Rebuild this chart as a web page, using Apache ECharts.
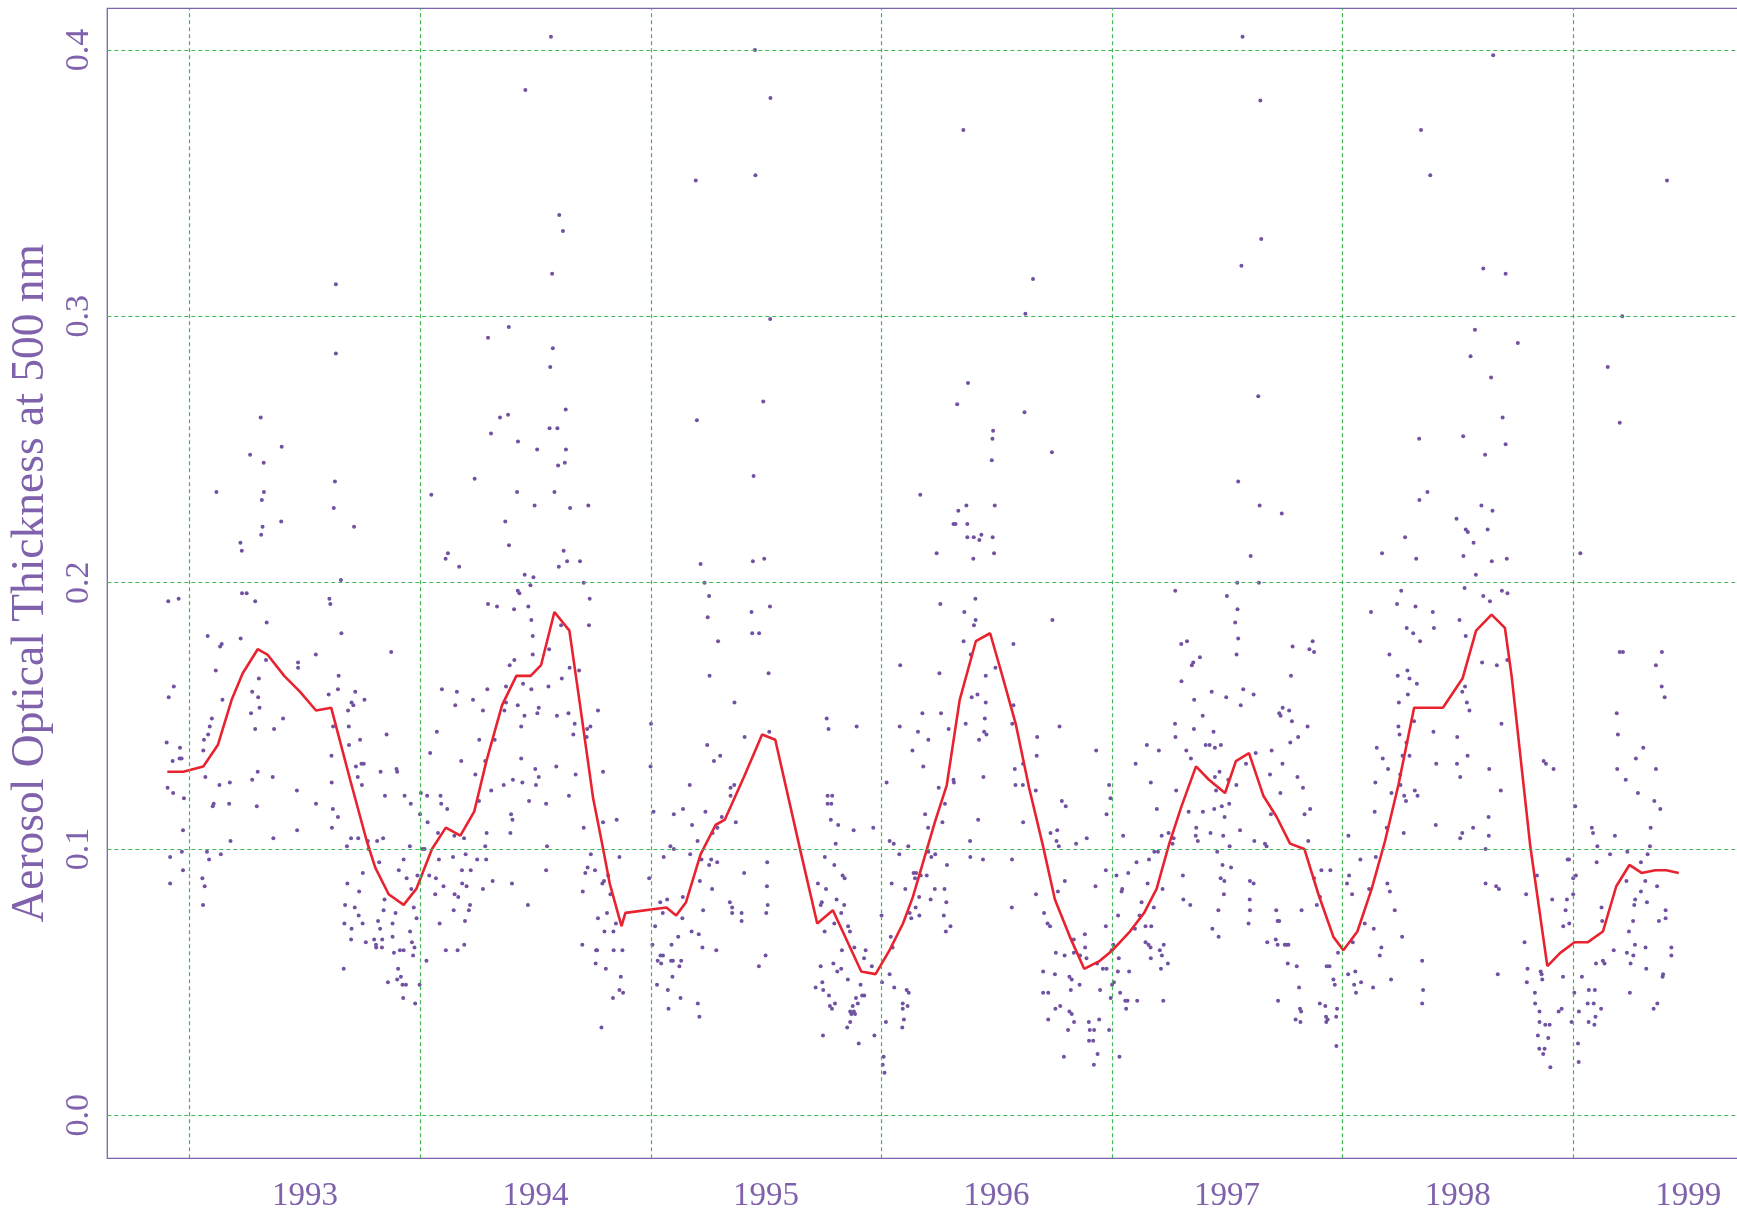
<!DOCTYPE html>
<html><head><meta charset="utf-8">
<script src="https://cdn.jsdelivr.net/npm/echarts@6/dist/echarts.min.js"></script>
<style>html,body{margin:0;padding:0;background:#fff}#c{width:1737px;height:1212px}</style>
</head><body><div id="c"></div>
<script>
// ---- tick labels / grid positions (decimal years, AOT values) ----
const xTickPos = [1993.5, 1994.5, 1995.5, 1996.5, 1997.5, 1998.5, 1999.5];
const xTickText = ['1993', '1994', '1995', '1996', '1997', '1998', '1999'];
const yTickPos = [0, 0.1, 0.2, 0.3, 0.4];
const yTickText = ['0.0', '0.1', '0.2', '0.3', '0.4'];
const xGridLines = [1993, 1994, 1995, 1996, 1997, 1998, 1999];
const yGridLines = [0, 0.1, 0.2, 0.3, 0.4];

// ---- daily observations [decimal year, aerosol optical thickness] ----
const aot1992 = [[1992.907,0.193],[1992.952,0.194],[1992.931,0.161],[1992.909,0.157],[1992.900,0.140],[1992.958,0.138],[1992.965,0.134],[1992.956,0.134],[1992.926,0.133],[1992.904,0.123],[1992.928,0.121],[1992.975,0.119],[1992.971,0.107],[1992.966,0.099],[1992.915,0.097],[1992.971,0.092],[1992.915,0.087]];
const aot1993 = [[1993.634,0.312],[1993.634,0.286],[1993.308,0.262],[1993.399,0.251],[1993.262,0.248],[1993.321,0.245],[1993.116,0.234],[1993.322,0.234],[1993.313,0.231],[1993.630,0.238],[1993.625,0.228],[1993.316,0.221],[1993.310,0.218],[1993.397,0.223],[1993.713,0.221],[1993.220,0.215],[1993.226,0.212],[1993.656,0.201],[1993.227,0.196],[1993.247,0.196],[1993.284,0.193],[1993.606,0.194],[1993.610,0.192],[1993.334,0.185],[1993.078,0.180],[1993.221,0.179],[1993.658,0.181],[1993.139,0.177],[1993.132,0.176],[1993.874,0.174],[1993.331,0.171],[1993.470,0.170],[1993.470,0.168],[1993.547,0.173],[1993.113,0.167],[1993.300,0.164],[1993.646,0.165],[1993.142,0.156],[1993.271,0.159],[1993.297,0.157],[1993.303,0.153],[1993.266,0.151],[1993.643,0.160],[1993.603,0.158],[1993.718,0.159],[1993.758,0.156],[1993.702,0.155],[1993.710,0.154],[1993.687,0.152],[1993.096,0.149],[1993.405,0.149],[1993.087,0.146],[1993.284,0.145],[1993.366,0.145],[1993.622,0.146],[1993.690,0.146],[1993.080,0.143],[1993.854,0.143],[1993.062,0.141],[1993.739,0.141],[1993.691,0.139],[1993.059,0.137],[1993.615,0.135],[1993.745,0.132],[1993.755,0.132],[1993.721,0.131],[1993.897,0.130],[1993.900,0.129],[1993.295,0.129],[1993.828,0.129],[1993.068,0.127],[1993.271,0.126],[1993.360,0.127],[1993.729,0.127],[1993.616,0.125],[1993.747,0.124],[1993.174,0.125],[1993.129,0.124],[1993.465,0.122],[1993.847,0.120],[1993.932,0.120],[1993.104,0.117],[1993.100,0.116],[1993.171,0.117],[1993.291,0.116],[1993.548,0.117],[1993.959,0.117],[1993.621,0.115],[1993.643,0.112],[1993.617,0.108],[1993.466,0.107],[1993.177,0.103],[1993.363,0.104],[1993.700,0.104],[1993.731,0.104],[1993.813,0.103],[1993.839,0.104],[1993.773,0.103],[1993.682,0.101],[1993.955,0.101],[1993.075,0.099],[1993.135,0.098],[1993.084,0.096],[1993.776,0.100],[1993.822,0.095],[1993.928,0.096],[1993.907,0.092],[1993.055,0.089],[1993.751,0.091],[1993.941,0.089],[1993.988,0.090],[1993.684,0.087],[1993.065,0.086],[1993.961,0.085],[1993.735,0.084],[1993.845,0.081],[1993.058,0.079],[1993.674,0.079],[1993.716,0.078],[1993.893,0.076],[1993.972,0.078],[1993.841,0.077],[1993.733,0.075],[1993.984,0.074],[1993.817,0.073],[1993.880,0.072],[1993.671,0.072],[1993.750,0.072],[1993.702,0.070],[1993.826,0.070],[1993.956,0.069],[1993.880,0.067],[1993.800,0.066],[1993.700,0.066],[1993.835,0.066],[1993.964,0.065],[1993.764,0.065],[1993.808,0.064],[1993.809,0.063],[1993.834,0.063],[1993.912,0.062],[1993.928,0.062],[1993.975,0.063],[1993.886,0.061],[1993.969,0.060],[1993.668,0.055],[1993.904,0.055],[1993.916,0.052],[1993.860,0.050],[1993.900,0.051],[1993.923,0.049],[1993.938,0.049],[1993.997,0.049],[1993.926,0.044],[1993.978,0.042],[1993.999,0.113]];
const aot1994 = [[1994.603,0.338],[1994.619,0.332],[1994.572,0.316],[1994.294,0.292],[1994.384,0.296],[1994.575,0.288],[1994.564,0.281],[1994.631,0.265],[1994.346,0.262],[1994.381,0.263],[1994.561,0.258],[1994.595,0.258],[1994.307,0.256],[1994.424,0.253],[1994.507,0.250],[1994.632,0.250],[1994.627,0.245],[1994.598,0.244],[1994.236,0.239],[1994.048,0.233],[1994.420,0.234],[1994.582,0.234],[1994.496,0.229],[1994.650,0.228],[1994.729,0.229],[1994.369,0.223],[1994.385,0.214],[1994.622,0.212],[1994.120,0.211],[1994.110,0.209],[1994.169,0.206],[1994.601,0.206],[1994.637,0.208],[1994.693,0.208],[1994.453,0.203],[1994.491,0.202],[1994.709,0.200],[1994.478,0.199],[1994.423,0.197],[1994.430,0.196],[1994.735,0.194],[1994.294,0.192],[1994.333,0.191],[1994.407,0.190],[1994.469,0.191],[1994.482,0.186],[1994.732,0.184],[1994.611,0.184],[1994.488,0.180],[1994.559,0.175],[1994.488,0.173],[1994.408,0.171],[1994.388,0.169],[1994.648,0.168],[1994.689,0.167],[1994.614,0.164],[1994.446,0.162],[1994.482,0.160],[1994.556,0.161],[1994.094,0.160],[1994.291,0.160],[1994.372,0.161],[1994.159,0.159],[1994.229,0.156],[1994.372,0.155],[1994.423,0.154],[1994.514,0.153],[1994.508,0.151],[1994.152,0.154],[1994.272,0.152],[1994.365,0.152],[1994.643,0.151],[1994.452,0.150],[1994.593,0.150],[1994.771,0.152],[1994.738,0.146],[1994.670,0.147],[1994.438,0.146],[1994.072,0.144],[1994.664,0.143],[1994.724,0.145],[1994.722,0.142],[1994.256,0.141],[1994.323,0.141],[1994.043,0.136],[1994.438,0.134],[1994.178,0.133],[1994.282,0.133],[1994.499,0.130],[1994.590,0.131],[1994.793,0.129],[1994.674,0.128],[1994.239,0.128],[1994.514,0.127],[1994.402,0.126],[1994.443,0.125],[1994.362,0.124],[1994.502,0.124],[1994.003,0.121],[1994.030,0.120],[1994.088,0.120],[1994.308,0.122],[1994.645,0.120],[1994.472,0.118],[1994.255,0.118],[1994.091,0.117],[1994.117,0.115],[1994.546,0.117],[1994.394,0.113],[1994.400,0.111],[1994.032,0.110],[1994.852,0.111],[1994.793,0.110],[1994.709,0.108],[1994.077,0.106],[1994.288,0.106],[1994.391,0.106],[1994.190,0.104],[1994.148,0.105],[1994.550,0.101],[1994.282,0.101],[1994.019,0.100],[1994.010,0.100],[1994.197,0.098],[1994.740,0.098],[1994.864,0.097],[1994.081,0.096],[1994.142,0.097],[1994.247,0.096],[1994.286,0.096],[1994.726,0.093],[1994.758,0.092],[1994.181,0.092],[1994.219,0.092],[1994.546,0.092],[1994.716,0.091],[1994.039,0.090],[1994.068,0.089],[1994.815,0.090],[1994.314,0.088],[1994.398,0.087],[1994.797,0.088],[1994.790,0.087],[1994.101,0.086],[1994.201,0.086],[1994.182,0.087],[1994.272,0.085],[1994.149,0.083],[1994.165,0.082],[1994.065,0.083],[1994.825,0.083],[1994.705,0.084],[1994.216,0.079],[1994.211,0.077],[1994.145,0.077],[1994.467,0.079],[1994.810,0.076],[1994.194,0.073],[1994.771,0.074],[1994.849,0.072],[1994.084,0.072],[1994.799,0.069],[1994.838,0.069],[1994.191,0.064],[1994.162,0.062],[1994.111,0.062],[1994.767,0.062],[1994.763,0.062],[1994.839,0.062],[1994.877,0.062],[1994.703,0.064],[1994.027,0.058],[1994.761,0.057],[1994.805,0.055],[1994.870,0.052],[1994.864,0.047],[1994.880,0.046],[1994.836,0.044],[1994.786,0.033],[1994.456,0.385],[1994.567,0.405]];
const aot1995 = [[1995.195,0.351],[1995.454,0.353],[1995.518,0.299],[1995.488,0.268],[1995.200,0.261],[1995.446,0.240],[1995.216,0.207],[1995.443,0.208],[1995.492,0.209],[1995.233,0.200],[1995.253,0.195],[1995.517,0.191],[1995.437,0.189],[1995.247,0.187],[1995.440,0.181],[1995.470,0.181],[1995.292,0.178],[1995.511,0.166],[1995.255,0.165],[1995.363,0.155],[1995.001,0.147],[1995.514,0.144],[1995.763,0.149],[1995.771,0.145],[1995.893,0.146],[1995.407,0.142],[1995.245,0.139],[1995.301,0.135],[1995.274,0.133],[1994.999,0.131],[1995.169,0.124],[1995.362,0.124],[1995.346,0.123],[1995.346,0.120],[1995.767,0.120],[1995.787,0.120],[1995.767,0.117],[1995.783,0.117],[1995.140,0.115],[1995.100,0.113],[1995.237,0.114],[1995.308,0.112],[1995.012,0.114],[1995.781,0.111],[1995.179,0.109],[1995.369,0.110],[1995.289,0.108],[1995.268,0.106],[1995.813,0.109],[1995.880,0.107],[1995.965,0.108],[1995.203,0.103],[1995.085,0.101],[1995.100,0.100],[1995.802,0.102],[1995.056,0.097],[1995.171,0.098],[1995.755,0.097],[1995.262,0.096],[1995.220,0.096],[1995.288,0.095],[1995.253,0.094],[1995.505,0.095],[1995.796,0.094],[1995.405,0.091],[1995.832,0.090],[1995.841,0.089],[1994.993,0.089],[1995.213,0.088],[1995.504,0.086],[1995.266,0.085],[1995.725,0.087],[1995.760,0.085],[1995.139,0.082],[1995.806,0.081],[1995.041,0.080],[1995.071,0.081],[1995.742,0.080],[1995.737,0.079],[1995.839,0.079],[1995.507,0.079],[1995.343,0.080],[1995.227,0.077],[1995.353,0.078],[1995.052,0.076],[1995.353,0.076],[1995.394,0.076],[1995.501,0.076],[1995.826,0.076],[1995.394,0.073],[1995.137,0.074],[1995.796,0.072],[1995.856,0.071],[1995.019,0.071],[1995.177,0.069],[1995.864,0.069],[1995.208,0.068],[1995.119,0.067],[1995.754,0.069],[1995.007,0.064],[1995.090,0.064],[1995.224,0.063],[1995.829,0.062],[1995.883,0.063],[1995.932,0.062],[1995.284,0.062],[1995.042,0.060],[1995.053,0.060],[1995.498,0.060],[1995.925,0.059],[1995.030,0.058],[1995.088,0.058],[1995.096,0.058],[1995.132,0.058],[1995.792,0.057],[1995.045,0.057],[1995.124,0.056],[1995.469,0.056],[1995.737,0.056],[1995.826,0.055],[1995.809,0.054],[1995.094,0.052],[1995.855,0.051],[1995.744,0.050],[1995.027,0.049],[1995.715,0.048],[1995.910,0.049],[1995.074,0.047],[1995.748,0.047],[1995.917,0.045],[1995.926,0.045],[1995.773,0.045],[1995.129,0.044],[1995.890,0.044],[1995.799,0.042],[1995.898,0.042],[1995.204,0.042],[1995.777,0.041],[1995.786,0.040],[1995.876,0.041],[1995.077,0.040],[1995.865,0.039],[1995.881,0.039],[1995.870,0.038],[1995.886,0.038],[1995.211,0.037],[1995.865,0.035],[1995.852,0.033],[1995.970,0.030],[1995.747,0.030],[1995.902,0.027],[1995.452,0.400],[1995.519,0.382],[1995.959,0.056]];
const aot1996 = [[1996.658,0.314],[1996.625,0.301],[1996.376,0.275],[1996.329,0.267],[1996.621,0.264],[1996.485,0.257],[1996.482,0.254],[1996.479,0.246],[1996.740,0.249],[1996.169,0.233],[1996.369,0.229],[1996.492,0.229],[1996.334,0.227],[1996.313,0.222],[1996.322,0.222],[1996.373,0.222],[1996.373,0.217],[1996.401,0.217],[1996.425,0.216],[1996.434,0.218],[1996.483,0.217],[1996.489,0.211],[1996.240,0.211],[1996.399,0.209],[1996.256,0.192],[1996.408,0.194],[1996.360,0.189],[1996.409,0.186],[1996.402,0.184],[1996.742,0.186],[1996.357,0.178],[1996.573,0.177],[1996.388,0.173],[1996.495,0.168],[1996.082,0.169],[1996.252,0.166],[1996.453,0.165],[1996.417,0.158],[1996.392,0.157],[1996.453,0.155],[1996.573,0.154],[1996.178,0.151],[1996.259,0.151],[1996.449,0.149],[1996.366,0.147],[1996.568,0.147],[1996.080,0.146],[1996.292,0.145],[1996.773,0.146],[1996.159,0.144],[1996.446,0.144],[1996.456,0.143],[1996.676,0.142],[1996.424,0.141],[1996.204,0.141],[1996.932,0.137],[1996.135,0.137],[1996.674,0.135],[1996.615,0.132],[1996.182,0.131],[1996.579,0.130],[1996.443,0.127],[1996.313,0.126],[1996.315,0.125],[1996.023,0.125],[1996.614,0.124],[1996.582,0.124],[1996.249,0.123],[1996.670,0.122],[1996.783,0.118],[1996.800,0.116],[1996.276,0.117],[1996.190,0.113],[1996.265,0.110],[1996.615,0.110],[1996.420,0.111],[1996.203,0.108],[1996.734,0.106],[1996.763,0.107],[1996.036,0.103],[1996.054,0.102],[1996.385,0.103],[1996.117,0.101],[1996.760,0.103],[1996.770,0.101],[1996.845,0.102],[1996.891,0.104],[1996.204,0.099],[1996.217,0.097],[1996.234,0.098],[1996.078,0.098],[1996.386,0.097],[1996.285,0.094],[1996.567,0.096],[1996.441,0.096],[1996.140,0.091],[1996.151,0.091],[1996.171,0.090],[1996.197,0.090],[1996.146,0.089],[1996.045,0.087],[1996.796,0.088],[1996.929,0.086],[1996.104,0.085],[1996.232,0.085],[1996.274,0.085],[1996.671,0.083],[1996.766,0.084],[1996.164,0.082],[1996.214,0.081],[1996.282,0.080],[1996.566,0.078],[1996.149,0.078],[1996.123,0.076],[1996.706,0.076],[1996.271,0.075],[1996.001,0.075],[1996.165,0.075],[1996.130,0.074],[1996.721,0.072],[1996.732,0.071],[1996.300,0.071],[1996.280,0.069],[1996.883,0.068],[1996.041,0.067],[1996.835,0.066],[1996.884,0.063],[1996.049,0.063],[1996.757,0.061],[1996.795,0.060],[1996.835,0.061],[1996.862,0.060],[1996.890,0.059],[1996.936,0.057],[1996.702,0.054],[1996.753,0.053],[1996.036,0.053],[1996.816,0.052],[1996.826,0.051],[1996.056,0.048],[1996.003,0.050],[1996.860,0.049],[1996.949,0.047],[1996.110,0.047],[1996.119,0.046],[1996.822,0.047],[1996.702,0.046],[1996.724,0.046],[1996.093,0.042],[1996.114,0.041],[1996.093,0.040],[1996.776,0.041],[1996.755,0.040],[1996.816,0.039],[1996.826,0.038],[1996.098,0.036],[1996.724,0.036],[1996.945,0.036],[1996.836,0.035],[1996.020,0.035],[1996.900,0.035],[1996.091,0.033],[1996.810,0.032],[1996.904,0.032],[1996.923,0.032],[1996.901,0.028],[1996.919,0.028],[1996.938,0.023],[1996.792,0.022],[1996.010,0.022],[1996.006,0.019],[1996.014,0.016],[1996.922,0.019],[1996.356,0.370]];
const aot1997 = [[1997.648,0.329],[1997.562,0.319],[1997.635,0.270],[1997.548,0.238],[1997.641,0.229],[1997.737,0.226],[1997.602,0.210],[1997.544,0.200],[1997.638,0.200],[1997.275,0.197],[1997.499,0.195],[1997.545,0.190],[1997.535,0.185],[1997.548,0.179],[1997.301,0.177],[1997.326,0.178],[1997.784,0.176],[1997.871,0.178],[1997.857,0.175],[1997.877,0.174],[1997.541,0.173],[1997.382,0.172],[1997.347,0.169],[1997.353,0.170],[1997.777,0.165],[1997.302,0.163],[1997.570,0.160],[1997.433,0.159],[1997.615,0.158],[1997.496,0.157],[1997.357,0.156],[1997.559,0.154],[1997.741,0.153],[1997.726,0.151],[1997.769,0.152],[1997.394,0.150],[1997.732,0.150],[1997.781,0.148],[1997.274,0.147],[1997.849,0.146],[1997.356,0.145],[1997.441,0.144],[1997.276,0.142],[1997.808,0.142],[1997.774,0.140],[1997.407,0.139],[1997.424,0.139],[1997.447,0.138],[1997.473,0.139],[1997.152,0.139],[1997.323,0.137],[1997.204,0.137],[1997.624,0.136],[1997.693,0.137],[1997.343,0.134],[1997.103,0.132],[1997.582,0.132],[1997.740,0.132],[1997.467,0.129],[1997.686,0.128],[1997.447,0.127],[1997.505,0.126],[1997.169,0.125],[1997.805,0.127],[1997.279,0.122],[1997.452,0.122],[1997.540,0.124],[1997.731,0.121],[1997.829,0.123],[1996.988,0.124],[1996.994,0.119],[1997.509,0.117],[1997.477,0.116],[1997.860,0.115],[1997.836,0.113],[1996.977,0.113],[1997.195,0.115],[1997.333,0.114],[1997.395,0.114],[1997.444,0.115],[1997.690,0.113],[1997.489,0.112],[1997.366,0.108],[1997.364,0.105],[1997.373,0.103],[1997.556,0.107],[1997.049,0.105],[1997.216,0.105],[1997.246,0.106],[1997.428,0.106],[1997.483,0.105],[1997.618,0.103],[1997.268,0.104],[1997.852,0.103],[1997.664,0.102],[1997.671,0.101],[1997.511,0.101],[1997.263,0.102],[1997.200,0.099],[1997.184,0.099],[1997.161,0.096],[1997.457,0.099],[1997.107,0.095],[1997.480,0.094],[1997.517,0.093],[1997.071,0.091],[1997.909,0.092],[1997.948,0.092],[1996.974,0.092],[1997.020,0.090],[1997.308,0.090],[1997.472,0.089],[1997.877,0.089],[1997.488,0.088],[1997.599,0.088],[1997.615,0.087],[1997.155,0.087],[1997.045,0.085],[1997.042,0.084],[1997.220,0.085],[1997.486,0.083],[1997.903,0.082],[1997.310,0.081],[1997.598,0.081],[1997.129,0.080],[1997.340,0.079],[1997.889,0.079],[1997.182,0.078],[1997.599,0.077],[1997.462,0.077],[1997.823,0.077],[1997.713,0.077],[1997.027,0.075],[1997.120,0.075],[1997.719,0.073],[1997.726,0.073],[1997.593,0.072],[1996.974,0.071],[1997.100,0.070],[1997.146,0.071],[1997.171,0.071],[1997.436,0.070],[1997.463,0.067],[1997.674,0.065],[1997.711,0.066],[1997.146,0.065],[1997.159,0.064],[1997.168,0.063],[1997.208,0.062],[1997.225,0.064],[1997.750,0.064],[1997.758,0.064],[1997.766,0.064],[1997.719,0.064],[1997.006,0.064],[1996.999,0.062],[1997.169,0.059],[1997.217,0.060],[1997.030,0.059],[1997.243,0.057],[1997.763,0.057],[1997.802,0.056],[1997.932,0.056],[1997.944,0.056],[1997.213,0.055],[1996.977,0.055],[1996.961,0.055],[1997.026,0.054],[1997.075,0.054],[1997.001,0.049],[1997.009,0.050],[1997.812,0.048],[1996.995,0.044],[1997.036,0.046],[1997.058,0.043],[1997.068,0.043],[1997.110,0.043],[1997.223,0.043],[1997.721,0.043],[1997.902,0.042],[1997.926,0.041],[1997.062,0.040],[1997.816,0.040],[1997.821,0.039],[1997.929,0.037],[1997.797,0.036],[1997.818,0.035],[1997.930,0.035],[1997.936,0.036],[1996.988,0.032],[1997.033,0.022],[1997.567,0.405],[1997.644,0.381]];
const aot1998 = [[1998.381,0.353],[1998.611,0.318],[1998.708,0.316],[1998.575,0.295],[1998.761,0.290],[1998.556,0.285],[1998.645,0.277],[1998.695,0.262],[1998.524,0.255],[1998.333,0.254],[1998.708,0.252],[1998.619,0.248],[1998.369,0.234],[1998.334,0.231],[1998.603,0.229],[1998.651,0.227],[1998.495,0.224],[1998.535,0.220],[1998.544,0.219],[1998.630,0.220],[1998.272,0.217],[1998.569,0.215],[1998.172,0.211],[1998.525,0.210],[1998.320,0.209],[1998.648,0.208],[1998.713,0.209],[1998.579,0.203],[1998.530,0.198],[1998.255,0.197],[1998.611,0.195],[1998.640,0.193],[1998.692,0.197],[1998.716,0.196],[1998.237,0.192],[1998.317,0.191],[1998.124,0.189],[1998.392,0.189],[1998.508,0.186],[1998.279,0.183],[1998.397,0.183],[1998.307,0.181],[1998.535,0.180],[1998.337,0.178],[1998.204,0.173],[1998.606,0.170],[1998.670,0.169],[1998.715,0.171],[1998.282,0.167],[1998.240,0.165],[1998.291,0.164],[1998.323,0.162],[1998.532,0.161],[1998.520,0.159],[1998.284,0.158],[1998.540,0.155],[1998.245,0.155],[1998.551,0.152],[1998.311,0.148],[1998.690,0.147],[1998.243,0.146],[1998.395,0.144],[1998.248,0.143],[1998.498,0.142],[1998.278,0.140],[1998.149,0.138],[1998.261,0.135],[1998.291,0.135],[1998.543,0.135],[1998.175,0.134],[1998.873,0.133],[1998.883,0.132],[1998.407,0.132],[1998.497,0.132],[1998.637,0.130],[1998.198,0.130],[1998.916,0.130],[1998.251,0.128],[1998.511,0.127],[1998.143,0.125],[1998.252,0.124],[1998.213,0.121],[1998.314,0.122],[1998.687,0.122],[1998.268,0.120],[1998.276,0.118],[1998.326,0.120],[1998.140,0.114],[1998.634,0.112],[1998.405,0.109],[1998.567,0.108],[1998.192,0.108],[1998.511,0.104],[1998.520,0.106],[1998.635,0.105],[1998.266,0.106],[1998.026,0.105],[1998.621,0.100],[1998.145,0.097],[1998.078,0.096],[1998.029,0.090],[1998.020,0.087],[1998.621,0.087],[1998.844,0.090],[1998.195,0.087],[1998.667,0.086],[1998.679,0.085],[1998.116,0.085],[1998.206,0.084],[1998.042,0.083],[1998.797,0.083],[1998.910,0.081],[1998.227,0.077],[1998.097,0.072],[1998.136,0.070],[1998.259,0.067],[1998.790,0.065],[1998.045,0.065],[1998.169,0.063],[1998.162,0.060],[1997.981,0.061],[1998.346,0.058],[1998.211,0.051],[1998.674,0.053],[1998.803,0.055],[1998.860,0.054],[1998.864,0.053],[1998.867,0.051],[1998.800,0.050],[1998.025,0.053],[1998.056,0.054],[1998.081,0.050],[1998.051,0.049],[1998.059,0.046],[1998.133,0.048],[1997.967,0.049],[1997.961,0.051],[1998.350,0.047],[1998.835,0.046],[1998.346,0.042],[1998.836,0.042],[1998.855,0.039],[1998.951,0.040],[1998.938,0.039],[1997.977,0.040],[1997.973,0.037],[1998.855,0.035],[1998.880,0.034],[1998.899,0.034],[1998.848,0.030],[1998.893,0.029],[1998.854,0.025],[1998.877,0.025],[1998.871,0.023],[1998.902,0.018],[1997.974,0.026],[1998.654,0.398],[1998.341,0.370]];
const aot1999 = [[1999.408,0.351],[1999.214,0.300],[1999.151,0.281],[1999.203,0.260],[1999.032,0.211],[1999.203,0.174],[1999.217,0.174],[1999.386,0.174],[1999.360,0.169],[1999.385,0.161],[1999.398,0.157],[1999.190,0.151],[1999.195,0.143],[1999.305,0.138],[1999.273,0.134],[1999.192,0.130],[1999.360,0.130],[1999.229,0.126],[1999.282,0.121],[1999.353,0.118],[1999.379,0.115],[1999.010,0.116],[1999.337,0.108],[1999.082,0.108],[1999.087,0.106],[1999.182,0.105],[1999.106,0.101],[1999.334,0.101],[1999.161,0.098],[1999.324,0.098],[1999.236,0.099],[1999.103,0.095],[1999.295,0.095],[1998.977,0.096],[1998.983,0.096],[1999.013,0.090],[1999.001,0.089],[1999.232,0.088],[1999.314,0.088],[1999.365,0.086],[1999.295,0.084],[1999.001,0.083],[1999.270,0.081],[1998.974,0.081],[1999.266,0.079],[1999.321,0.080],[1999.124,0.078],[1998.968,0.077],[1999.402,0.077],[1999.402,0.074],[1999.373,0.073],[1999.127,0.073],[1999.261,0.073],[1998.984,0.072],[1998.958,0.071],[1999.243,0.069],[1999.269,0.064],[1999.315,0.063],[1999.427,0.063],[1999.177,0.062],[1999.234,0.061],[1999.262,0.060],[1999.427,0.060],[1999.130,0.058],[1999.137,0.057],[1999.100,0.057],[1999.250,0.057],[1999.318,0.055],[1999.391,0.053],[1999.389,0.052],[1998.957,0.052],[1999.039,0.052],[1999.069,0.047],[1999.095,0.047],[1999.006,0.046],[1999.247,0.046],[1999.090,0.042],[1999.064,0.042],[1999.366,0.042],[1999.350,0.040],[1999.122,0.040],[1999.026,0.039],[1999.098,0.037],[1999.068,0.035],[1999.093,0.034],[1998.994,0.035],[1999.022,0.027],[1999.025,0.020]];

// ---- smoothed (monthly) curve ----
const curveYears = [1992.903,1992.972,1993.059,1993.122,1993.182,1993.230,1993.295,1993.337,1993.410,1993.479,1993.548,1993.614,1993.696,1993.768,1993.805,1993.863,1993.928,1993.983,1994.051,1994.111,1994.174,1994.234,1994.287,1994.355,1994.417,1994.479,1994.524,1994.582,1994.647,1994.695,1994.750,1994.789,1994.822,1994.873,1994.890,1995.068,1995.110,1995.153,1995.216,1995.281,1995.321,1995.404,1995.483,1995.540,1995.650,1995.722,1995.790,1995.913,1995.975,1996.036,1996.094,1996.137,1996.181,1996.232,1996.284,1996.340,1996.410,1996.472,1996.525,1996.583,1996.641,1996.699,1996.753,1996.818,1996.880,1996.948,1997.003,1997.078,1997.140,1997.194,1997.249,1997.302,1997.365,1997.421,1997.491,1997.538,1997.595,1997.657,1997.715,1997.773,1997.835,1997.896,1997.961,1998.004,1998.065,1998.127,1998.185,1998.243,1998.311,1998.378,1998.436,1998.521,1998.580,1998.647,1998.705,1998.734,1998.815,1998.889,1998.945,1999.007,1999.065,1999.130,1999.188,1999.245,1999.298,1999.357,1999.405,1999.459];
const curveAot = [0.129,0.129,0.131,0.139,0.156,0.166,0.175,0.173,0.165,0.159,0.152,0.153,0.126,0.103,0.093,0.083,0.079,0.085,0.100,0.108,0.105,0.114,0.133,0.154,0.165,0.165,0.169,0.189,0.182,0.153,0.119,0.102,0.087,0.071,0.076,0.078,0.075,0.080,0.098,0.109,0.111,0.127,0.143,0.141,0.099,0.072,0.077,0.054,0.053,0.062,0.072,0.082,0.095,0.110,0.124,0.156,0.178,0.181,0.165,0.147,0.123,0.102,0.081,0.067,0.055,0.058,0.062,0.069,0.076,0.085,0.102,0.116,0.131,0.126,0.121,0.133,0.136,0.120,0.112,0.102,0.100,0.083,0.067,0.062,0.069,0.085,0.103,0.124,0.153,0.153,0.153,0.164,0.182,0.188,0.183,0.165,0.101,0.056,0.061,0.065,0.065,0.069,0.086,0.094,0.091,0.092,0.092,0.091];

const PURPLE = '#7f62ab';
const DOT = '#7152a2';
const GREEN = '#44b755';
const RED = '#e8232f';
const FONT = 'Liberation Serif';

const points = [].concat(aot1992, aot1993, aot1994, aot1995, aot1996, aot1997, aot1998, aot1999);
const curve = curveYears.map((t, i) => [t, curveAot[i]]);

const chart = echarts.init(document.getElementById('c'), null, {renderer: 'canvas'});
chart.setOption({
  animation: false,
  backgroundColor: '#ffffff',
  grid: {
    left: 107.3, top: 8.3, right: -1, bottom: 53.7,
    show: true, borderColor: PURPLE, borderWidth: 1.3, backgroundColor: 'transparent',
    containLabel: false, outerBoundsMode: 'none'
  },
  xAxis: {
    type: 'value', min: 1992.6426, max: 1999.716,
    axisLine: {show: false}, axisTick: {show: false}, splitLine: {show: false},
    axisLabel: {
      customValues: xTickPos,
      formatter: v => xTickText[xTickPos.indexOf(v)] ?? '',
      color: PURPLE, fontFamily: FONT, fontSize: 33, margin: 22
    }
  },
  yAxis: {
    type: 'value', min: -0.01615, max: 0.41566,
    name: 'Aerosol Optical Thickness at 500 nm',
    nameLocation: 'middle', nameRotate: 90, nameGap: 49.5,
    nameTextStyle: {color: PURPLE, fontFamily: FONT, fontSize: 45.5},
    axisLine: {show: false}, axisTick: {show: false}, splitLine: {show: false},
    axisLabel: {
      customValues: yTickPos,
      formatter: v => yTickText[yTickPos.indexOf(v)] ?? '',
      rotate: 90, color: PURPLE, fontFamily: FONT, fontSize: 34, margin: 11.5
    }
  },
  series: [
    {
      type: 'line', data: [], z: 1, silent: true,
      markLine: {
        silent: true, symbol: ['none', 'none'], label: {show: false}, animation: false,
        lineStyle: {color: GREEN, width: 1.2, type: [4, 3]},
        data: xGridLines.map(v => ({xAxis: v})).concat(yGridLines.map(v => ({yAxis: v})))
      }
    },
    {
      type: 'scatter', data: points, z: 2, symbol: 'circle', symbolSize: 4,
      itemStyle: {color: DOT, opacity: 1}, silent: true
    },
    {
      type: 'line', data: curve, z: 3, symbol: 'none', smooth: false,
      lineStyle: {color: RED, width: 2.6}, silent: true
    }
  ]
});
</script>
</body></html>
